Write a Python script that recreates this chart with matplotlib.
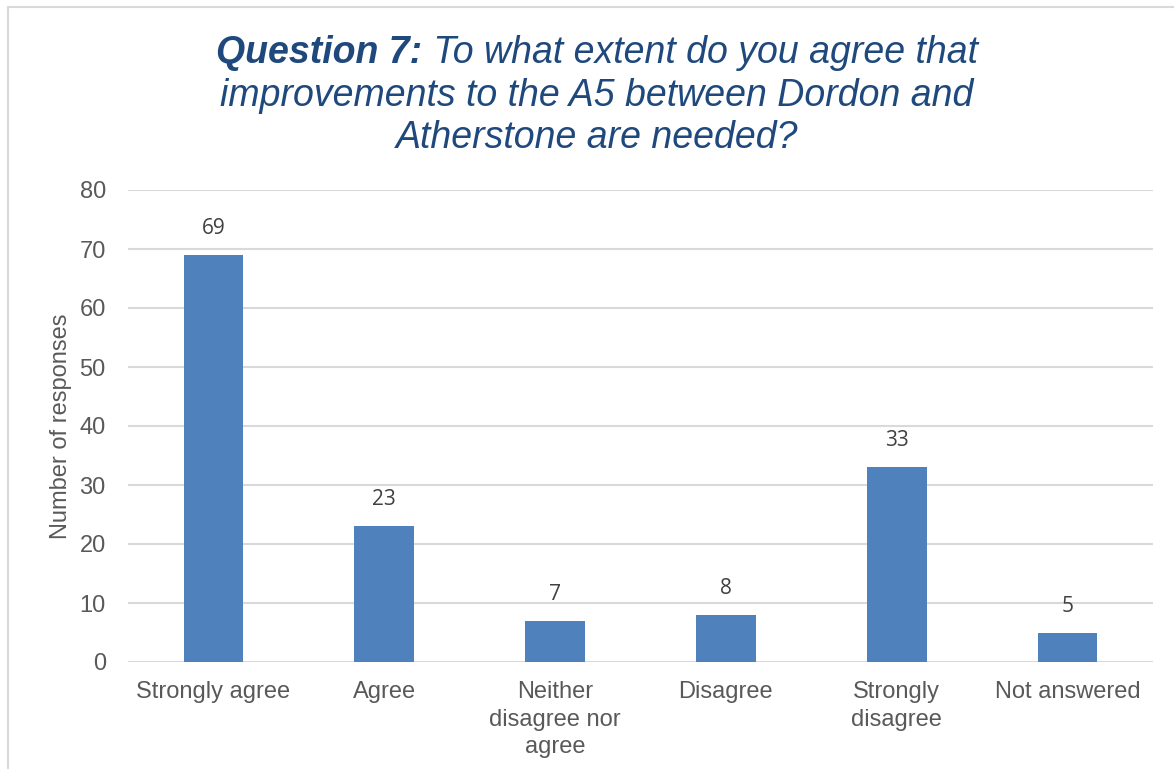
import matplotlib
matplotlib.use("Agg")
import matplotlib.pyplot as plt
from matplotlib.patches import Rectangle

categories = ["Strongly agree", "Agree", "Neither\ndisagree nor\nagree", "Disagree",
              "Strongly\ndisagree", "Not answered"]
responses = [69, 23, 7, 8, 33, 5]
yticks = [0, 10, 20, 30, 40, 50, 60, 70, 80]

title_bold = "Question 7:"
title_lines = [" To what extent do you agree that",
               "improvements to the A5 between Dordon and",
               "Atherstone are needed?"]

bar_color = "#4f81bd"
grid_color = "#d9d9d9"
text_color = "#595959"
title_color = "#1f497d"

plt.rcParams["font.family"] = ["Liberation Sans", "DejaVu Sans"]

W, H = 1174, 769
fig = plt.figure(figsize=(W / 100, H / 100), dpi=100)
ax = fig.add_axes([128 / W, 1 - 662 / H, (1153 - 128) / W, (662 - 190) / H])

x = range(len(categories))
ax.bar(x, responses, width=0.35, color=bar_color, zorder=3)
ax.set_xlim(-0.5, len(categories) - 0.5)
ax.set_ylim(0, 80)
ax.set_yticks(yticks)
ax.set_xticks(list(x))
ax.set_xticklabels(categories, fontsize=17, color=text_color, linespacing=1.3)
ax.tick_params(axis="y", labelsize=17, labelcolor=text_color, length=0, pad=16)
ax.tick_params(axis="x", length=0, pad=14)
ax.grid(axis="y", color=grid_color, linewidth=1.5, zorder=0)
for s in ax.spines.values():
    s.set_visible(False)
ax.set_ylabel("Number of responses", fontsize=17, color=text_color, labelpad=5)

for xi, v in zip(x, responses):
    ax.annotate(str(v), (xi, v), xytext=(0, 19), textcoords="offset points",
                ha="center", va="center", fontsize=15, color="#404040",
                family=["Open Sans", "DejaVu Sans"])

# title: first line mixes bold italic and italic
r = fig.canvas.get_renderer()
cx = 597 / W
t1 = fig.text(0, 0, title_bold, fontsize=27, fontweight="bold", style="italic", color=title_color)
t2 = fig.text(0, 0, title_lines[0], fontsize=27, style="italic", color=title_color)
w1 = t1.get_window_extent(r).width
w2 = t2.get_window_extent(r).width
left = 597 - (w1 + w2) / 2
base1 = H - 63
t1.set_position((left / W, base1 / H))
t1.set_va("baseline")
t2.set_position(((left + w1) / W, base1 / H))
t2.set_va("baseline")
fig.text(cx, (H - 106) / H, title_lines[1], fontsize=27, style="italic",
         color=title_color, ha="center", va="baseline")
fig.text(cx, (H - 148) / H, title_lines[2], fontsize=27, style="italic",
         color=title_color, ha="center", va="baseline")

# chart border, cropped at right and bottom
fig.add_artist(Rectangle((8 / W, -0.1), 1.2, 1 - 7 / H + 0.1, transform=fig.transFigure,
                         fill=False, edgecolor=grid_color, linewidth=1.5))

fig.savefig("out.png", dpi=100)
